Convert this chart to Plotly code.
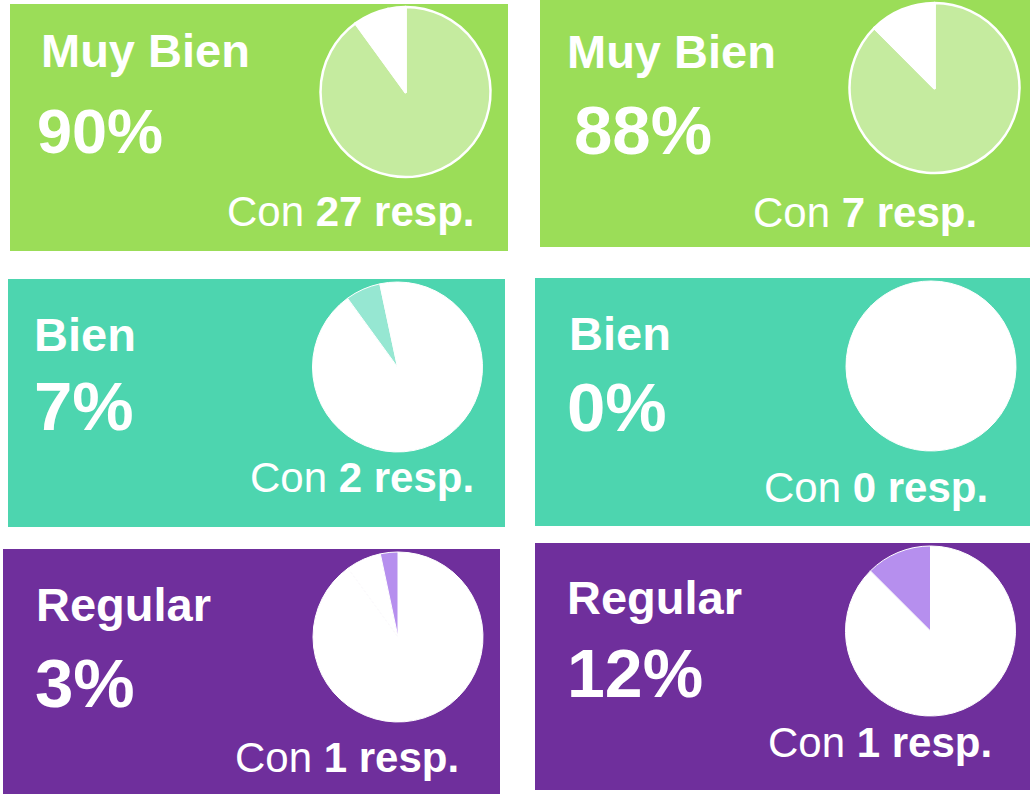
import plotly.graph_objects as go

# ---------------- data ----------------
categories = ["Muy Bien", "Bien", "Regular"]
counts_left = [27, 2, 1]
counts_right = [7, 0, 1]
pct_left = [90, 7, 3]
pct_right = [88, 0, 12]

# ---------------- styles ----------------
W, H = 1030, 794
panel_colors = ["#9BDD58", "#4DD5AF", "#6F2F9C"]
slice_colors = ["#C5EB9F", "#96E7D2", "#B68FEE"]
FONT = "Liberation Sans, Arial, sans-serif"

# layout per panel: (column, row) -> rect, pie centre, text positions
panels = {
    (0, 0): dict(rect=(10, 4, 508, 251), pie=(405.5, 92), lab=(39, 68), pct=(35, 154, 63), con=(477, 227)),
    (1, 0): dict(rect=(540, 0, 1030, 247), pie=(934.5, 88), lab=(565, 69), pct=(572, 155, 69), con=(979, 228)),
    (0, 1): dict(rect=(8, 279, 505, 527), pie=(397.5, 367), lab=(32, 352), pct=(32, 431, 69), con=(476, 493)),
    (1, 1): dict(rect=(535, 278, 1030, 526), pie=(931, 366), lab=(567, 351), pct=(565, 432, 69), con=(990, 503)),
    (0, 2): dict(rect=(3, 549, 500, 794), pie=(398, 637), lab=(34, 622), pct=(33, 708, 69), con=(461, 773)),
    (1, 2): dict(rect=(535, 543, 1030, 790), pie=(930.5, 631), lab=(565, 615), pct=(565, 698, 68), con=(994, 758)),
}
PIE_D = 170
LAB_SIZE = 47
CON_SIZE = 42

fig = go.Figure()
shapes = []
annotations = []


def ann(text, x_px, baseline_px, size, anchor):
    bottom = baseline_px + 1 + 0.212 * size
    annotations.append(dict(
        text=text, x=x_px / W, y=1 - bottom / H, xref="paper", yref="paper",
        xanchor=anchor, yanchor="bottom", showarrow=False,
        font=dict(family=FONT, size=size, color="white")))


for col, (counts, pcts) in enumerate([(counts_left, pct_left), (counts_right, pct_right)]):
    for row, cat in enumerate(categories):
        p = panels[(col, row)]
        x0, y0, x1, y1 = p["rect"]
        shapes.append(dict(type="rect", xref="paper", yref="paper",
                           x0=x0 / W, x1=x1 / W, y0=1 - y1 / H, y1=1 - y0 / H,
                           fillcolor=panel_colors[row], line=dict(width=0), layer="below"))
        cx, cy = p["pie"]
        colors = ["white"] * len(categories)
        colors[row] = slice_colors[row]
        fig.add_trace(go.Pie(
            labels=categories, values=counts, sort=False, direction="clockwise", rotation=0,
            marker=dict(colors=colors, line=dict(color="white", width=2.5 if row == 0 else 1)),
            textinfo="none", hoverinfo="none", showlegend=False,
            domain=dict(x=[(cx - PIE_D / 2) / W, (cx + PIE_D / 2) / W],
                        y=[1 - (cy + PIE_D / 2) / H, 1 - (cy - PIE_D / 2) / H])))
        ann(f"<b>{cat}</b>", p["lab"][0], p["lab"][1], LAB_SIZE, "left")
        ann(f"<b>{pcts[row]}%</b>", p["pct"][0], p["pct"][1], p["pct"][2], "left")
        ann(f"Con <b>{counts[row]} resp.</b>", p["con"][0], p["con"][1], CON_SIZE, "right")

fig.update_layout(width=W, height=H, margin=dict(l=0, r=0, t=0, b=0),
                  paper_bgcolor="white", plot_bgcolor="white",
                  shapes=shapes, annotations=annotations)
fig.write_html("out.html", config={"displayModeBar": False},
               post_script="document.body.style.margin='0px';document.body.style.overflow='hidden';")
